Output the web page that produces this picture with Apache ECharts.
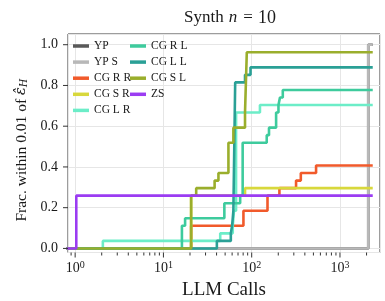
<!DOCTYPE html>
<html><head><meta charset="utf-8">
<script src="https://cdn.jsdelivr.net/npm/echarts@6/dist/echarts.min.js"></script>
<style>html,body{margin:0;padding:0;background:#fff}#c{width:385px;height:301px}</style>
</head><body><div id="c"></div>
<script>
// ---- data (x = LLM calls, y = fraction) ----
const seriesNames = ['YP','YP S','CG R R','CG S R','CG L R','CG R L','CG L L','CG S L','ZS'];
const seriesColors = ['#595959','#b8b8b8','#f15a2b','#d8d83c','#6cedc8','#3ecb9d','#2aa096','#9aae2c','#9b3cf2'];

const ypX   = [0.8, 2090, 2350];            const ypY   = [0, 1.0, 1.0];
const ypsX  = [0.8, 2090, 2350];            const ypsY  = [0, 1.0, 1.0];
const cgrrX = [0.8, 20.6, 80.6, 151, 206, 318, 360, 536, 2350];
const cgrrY = [0, 0.111, 0.185, 0.259, 0.296, 0.333, 0.370, 0.407, 0.407];
const cgsrX = [0.8, 20.6, 84, 2350];
const cgsrY = [0, 0.259, 0.296, 0.296];
const cglrX = [0.8, 2.06, 44, 61, 63, 66.5, 124, 2350];
const cglrY = [0, 0.037, 0.074, 0.111, 0.185, 0.667, 0.704, 0.704];
const cgrlX = [0.8, 16.2, 17.6, 49, 74, 79, 148, 157, 189, 201, 209, 225, 2350];
const cgrlY = [0, 0.111, 0.148, 0.222, 0.259, 0.519, 0.556, 0.593, 0.667, 0.704, 0.741, 0.778, 0.778];
const cgllX = [0.8, 40.3, 58, 60, 62, 65, 84, 97, 2350];
const cgllY = [0, 0.037, 0.074, 0.111, 0.185, 0.815, 0.852, 0.889, 0.889];
const cgslX = [0.8, 20.6, 23.5, 38, 42, 54.5, 62, 84, 88, 2350];
const cgslY = [0, 0.259, 0.296, 0.333, 0.370, 0.519, 0.593, 0.667, 0.963, 0.963];
const zsX   = [0.8, 1.03, 2350];            const zsY   = [0, 0.259, 0.259];

const xMajorTicks = [1, 10, 100, 1000];
const yMajorTicks = [0, 0.2, 0.4, 0.6, 0.8, 1.0];
const legendCol1 = ['YP','YP S','CG R R','CG S R','CG L R'];
const legendCol2 = ['CG R L','CG L L','CG S L','ZS'];

// ---- chart ----
const X_MIN = 0.83, X_MAX = 2840, Y_MIN = -0.02, Y_MAX = 1.0526;
const FONT = 'Liberation Serif';
const TXT = '#1a1a1a';
const xs = [ypX, ypsX, cgrrX, cgsrX, cglrX, cgrlX, cgllX, cgslX, zsX];
const ys = [ypY, ypsY, cgrrY, cgsrY, cglrY, cgrlY, cgllY, cgslY, zsY];

const xMinorTicks = [];
for (let d = 0.1; d <= 1000; d *= 10) {
  for (let k = 2; k <= 9; k++) {
    const v = k * d;
    if (v > X_MIN && v < X_MAX) xMinorTicks.push(v);
  }
}
const tickData = [];
xMajorTicks.forEach(v => tickData.push([v, Y_MIN, 0]));
xMinorTicks.forEach(v => tickData.push([v, Y_MIN, 1]));
yMajorTicks.forEach(v => tickData.push([X_MIN, v, 2]));

const lineSeries = seriesNames.map((n, i) => ({
  name: n, type: 'line', step: 'end', symbol: 'none', showSymbol: false,
  color: seriesColors[i],
  lineStyle: { width: 2.6, color: seriesColors[i] },
  itemStyle: { color: seriesColors[i] },
  data: xs[i].map((x, j) => [x, ys[i][j]]),
  z: 2 + i, silent: true
}));

const tickSeries = {
  type: 'custom', name: '_ticks', clip: false, silent: true, z: 20,
  data: tickData,
  renderItem(params, api) {
    const kind = api.value(2);
    const p = api.coord([api.value(0), api.value(1)]);
    let shape;
    if (kind === 0) shape = { x1: p[0], y1: p[1], x2: p[0], y2: p[1] + 5 };
    else if (kind === 1) shape = { x1: p[0], y1: p[1], x2: p[0], y2: p[1] + 3 };
    else shape = { x1: p[0] - 5, y1: p[1], x2: p[0], y2: p[1] };
    return { type: 'line', shape, style: { stroke: '#333', lineWidth: 1 } };
  }
};

const legendBase = {
  orient: 'vertical', icon: 'rect', itemWidth: 16, itemHeight: 3.5,
  itemGap: 4.1, itemTextGap: 2, padding: 0,
  textStyle: { fontFamily: FONT, fontSize: 11.5, color: TXT, lineHeight: 12 },
  backgroundColor: 'transparent', selectedMode: false
};

const chart = echarts.init(document.getElementById('c'), null, { renderer: 'canvas' });
chart.setOption({
  animation: false,
  backgroundColor: '#fff',
  title: {
    text: '{a|Synth}{i|n}{q|=}{d|10}', left: 225, top: 4, textAlign: 'center',
    textStyle: { fontWeight: 'normal', rich: {
      a: { fontFamily: FONT, fontSize: 17, color: TXT, fontWeight: 'normal' },
      i: { fontFamily: FONT, fontSize: 17, fontStyle: 'italic', color: TXT, fontWeight: 'normal', padding: [0, 0, 0, 5] },
      q: { fontFamily: FONT, fontSize: 17, color: TXT, fontWeight: 'normal', padding: [0, 5, 0, 6] },
      d: { fontFamily: FONT, fontSize: 18, color: TXT, fontWeight: 'normal' }
    } }
  },
  legend: [
    Object.assign({}, legendBase, { left: 73, top: 40, data: legendCol1 }),
    Object.assign({}, legendBase, { left: 130, top: 40, data: legendCol2 })
  ],
  grid: { left: 68, right: 5, top: 34, bottom: 48.5, show: true, borderColor: '#3a3a3a', borderWidth: 1,
          backgroundColor: 'transparent', containLabel: false, outerBoundsMode: 'none' },
  xAxis: {
    type: 'log', logBase: 10, min: X_MIN, max: X_MAX,
    name: 'LLM Calls', nameLocation: 'middle', nameGap: 25,
    nameTextStyle: { fontFamily: FONT, fontSize: 19, color: TXT },
    axisLine: { show: false }, axisTick: { show: false },
    splitLine: { show: true, lineStyle: { color: '#e6e6e6', width: 1 } },
    axisLabel: {
      margin: 8, showMinLabel: true, showMaxLabel: true,
      formatter: v => {
        const l = Math.log10(v);
        if (Math.abs(l - Math.round(l)) > 1e-6) return '';
        return '{b|10}{s|' + Math.round(l) + '}';
      },
      rich: {
        b: { fontFamily: FONT, fontSize: 14, color: TXT, lineHeight: 16 },
        s: { fontFamily: FONT, fontSize: 10, color: TXT, verticalAlign: 'top', lineHeight: 10 }
      }
    }
  },
  yAxis: {
    type: 'value', min: Y_MIN, max: Y_MAX,
    name: '{a|Frac. within 0.01 of }{e|ε\u0302}{s|H}', nameLocation: 'middle', nameGap: 34, nameRotate: 90,
    nameTextStyle: { rich: {
      a: { fontFamily: FONT, fontSize: 15.5, color: TXT },
      e: { fontFamily: 'DejaVu Serif', fontSize: 14.5, fontStyle: 'italic', color: TXT },
      s: { fontFamily: FONT, fontSize: 11.5, fontStyle: 'italic', color: TXT, verticalAlign: 'bottom', padding: [0, 14, 0, 0] }
    } },
    axisLine: { show: false }, axisTick: { show: false },
    splitLine: { show: true, lineStyle: { color: '#e6e6e6', width: 1 } },
    axisLabel: {
      margin: 10, fontFamily: FONT, fontSize: 14, color: TXT,
      formatter: v => (Math.abs(v * 5 - Math.round(v * 5)) > 1e-6 ? '' : v.toFixed(1))
    }
  },
  series: lineSeries.concat([tickSeries])
});
</script></body></html>
